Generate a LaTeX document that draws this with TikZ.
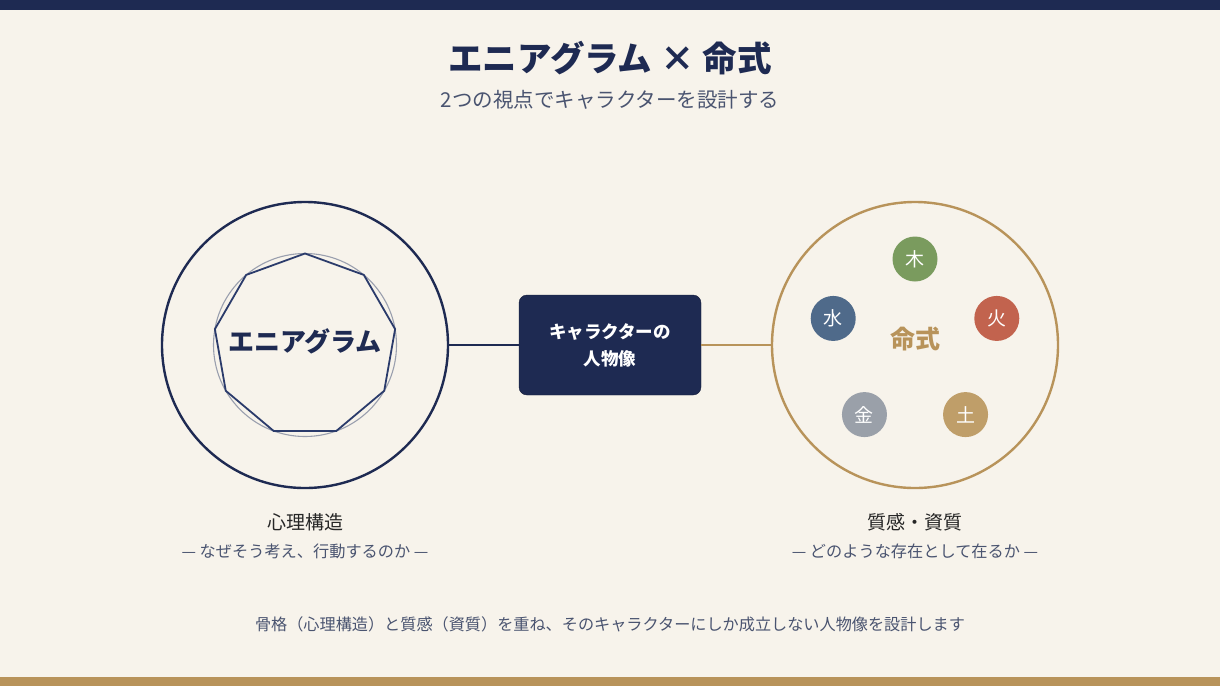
\documentclass[tikz,border=0pt]{standalone}
\usepackage{fontspec}
\setmainfont{Noto Sans CJK JP}
\usepackage{tikz}
\usetikzlibrary{positioning, shapes.geometric, calc}
\definecolor{bgcream}{HTML}{F7F3EB}
\definecolor{navy}{HTML}{1E2A52}
\definecolor{polynavy}{HTML}{2B3B6B}
\definecolor{gold}{HTML}{B8935A}
\definecolor{subgray}{HTML}{4A5470}
\definecolor{ringgray}{HTML}{9A9FAE}
\definecolor{wood}{HTML}{7A9B5E}
\definecolor{fire}{HTML}{C2634E}
\definecolor{earth}{HTML}{BF9E69}
\definecolor{metal}{HTML}{9AA0A9}
\definecolor{water}{HTML}{4F6A8A}
\tikzset{
	bigring/.style={circle, line width=2.4pt, minimum size=286pt, inner sep=0pt, outer sep=0pt},
	elem/.style={circle, minimum size=45pt, inner sep=0pt, text=white, font=\fontsize{19}{19}\selectfont},
	caption/.style={font=\fontsize{19}{19}\selectfont, text=black!85},
	subcap/.style={font=\fontsize{16.2}{17}\selectfont, text=subgray}
}
\begin{document}
\begin{tikzpicture}[x=1pt, y=-1pt]
		\pgfmathsetmacro{\ringr}{86}
		%% background and bars
		\fill[bgcream] (0,0) rectangle (1220,686);
		\useasboundingbox (0,0) rectangle (1220,686);
		\fill[navy] (0,0) rectangle (1220,10);
		\fill[gold] (0,677) rectangle (1220,686);
		%% title
		\node[font=\bfseries\fontsize{34.5}{35}\selectfont, text=navy] (title) at (610,58) {エニアグラム × 命式};
		\node[font=\fontsize{20.5}{21}\selectfont, text=subgray] (subtitle) at (610,100) {2つの視点でキャラクターを設計する};
		%% left circle
		\node[bigring, draw=navy] (enn) at (305,345) {};
		\node[circle, draw=ringgray, line width=1.1pt, minimum size=183pt, inner sep=0pt] (ennin) at (enn.center) {};
		\node[regular polygon, regular polygon sides=9, draw=polynavy, line width=1.8pt, minimum size=183pt, inner sep=0pt] (nona) at (enn.center) {};
		\node[font=\bfseries\fontsize{26}{26}\selectfont, text=navy] (ennlbl) at ($(enn.center)+(0,-4)$) {エニアグラム};
		%% centre box
		\node[rectangle, rounded corners=8pt, fill=navy, draw=navy!70!black, minimum width=182pt, minimum height=100pt, text=white, align=center, font=\bfseries\fontsize{17.5}{27}\selectfont] (core) at (610,345) {キャラクターの\\人物像};
		%% right circle (y axis points down, so angles are mirrored)
		\node[bigring, draw=gold] (mei) at (915,345) {};
		\node[font=\bfseries\fontsize{25}{25}\selectfont, text=gold] (meilbl) at ($(mei.center)+(0,-6)$) {命式};
		\node[elem, fill=wood] (moku) at ($(mei.center)+(-90:\ringr)$) {木};
		\node[elem, fill=fire] (ka) at ($(mei.center)+(-18:\ringr)$) {火};
		\node[elem, fill=earth] (do) at ($(mei.center)+(54:\ringr)$) {土};
		\node[elem, fill=metal] (kin) at ($(mei.center)+(126:\ringr)$) {金};
		\node[elem, fill=water] (sui) at ($(mei.center)+(198:\ringr)$) {水};
		%% connectors
		\draw[navy, line width=1.8pt] (enn.east) -- (core.west);
		\draw[gold, line width=1.8pt] (core.east) -- (mei.west);
		%% captions
		\node[caption] (enncap) at (305,522) {心理構造};
		\node[subcap] (ennsub) at (305,551) {— なぜそう考え、行動するのか —};
		\node[caption] (meicap) at (915,522) {質感・資質};
		\node[subcap] (meisub) at (915,551) {— どのような存在として在るか —};
		\node[font=\fontsize{16.15}{17}\selectfont, text=subgray] (foot) at (610,624) {骨格（心理構造）と質感（資質）を重ね、そのキャラクターにしか成立しない人物像を設計します};
		\end{tikzpicture}
\end{document}
